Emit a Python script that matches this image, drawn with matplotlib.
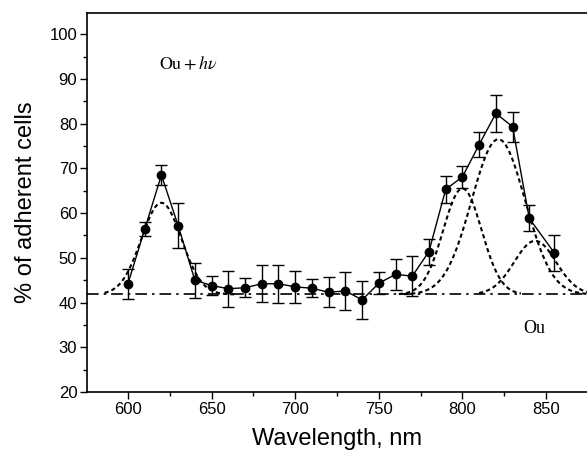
import numpy as np
import matplotlib
matplotlib.use('Agg')
import matplotlib.pyplot as plt

# measured points
wavelength = [600, 610, 620, 630, 640, 650, 660, 670, 680, 690, 700, 710, 720,
              730, 740, 750, 760, 770, 780, 790, 800, 810, 820, 830, 840, 855]
adherent = [44.2, 56.4, 68.5, 57.2, 45.0, 43.8, 43.1, 43.3, 44.2, 44.2, 43.5, 43.2, 42.3,
            42.6, 40.6, 44.3, 46.3, 45.9, 51.4, 65.3, 68.1, 75.3, 82.3, 79.3, 58.8, 51.1]
errors = [3.4, 1.6, 2.3, 5.0, 3.9, 2.1, 4.0, 2.1, 4.1, 4.2, 3.5, 2.0, 3.3,
          4.2, 4.2, 2.5, 3.5, 4.5, 2.9, 3.0, 2.4, 2.8, 4.2, 3.4, 2.9, 4.1]

# gaussian fit components
baseline = 41.8
peak_centers = [620, 800, 821.5, 843.5]
peak_widths = [12, 11.5, 16, 12.5]
peak_heights = [20.5, 23.7, 34.7, 12.0]
peak_from = [586, 762, 765, 810]
peak_to = [665, 835, 875, 875]


def graph_adherence():
    fig = plt.figure(figsize=(5.87, 4.57), dpi=100)
    ax = fig.add_axes([87 / 587, 1 - 392 / 457, 500 / 587, (392 - 12.7) / 457])
    plt.rcParams['mathtext.fontset'] = 'stix'

    ax.axhline(baseline, color='black', lw=1.2, linestyle=(0, (7, 3, 1.5, 3)), zorder=1)

    for c, s, h, a, b in zip(peak_centers, peak_widths, peak_heights, peak_from, peak_to):
        x = np.linspace(a, b, 200)
        y = baseline + h * np.exp(-(x - c) ** 2 / (2 * s ** 2))
        ax.plot(x, y, color='black', lw=1.5, linestyle=(0, (2.0, 1.5)), zorder=2)

    ax.errorbar(wavelength, adherent, yerr=errors, color='black', lw=1, marker='o',
                markersize=6, elinewidth=1, capsize=4.5, capthick=1, zorder=3)

    ax.set_xlim(575.5, 874.5)
    ax.set_ylim(20, 104.8)
    ax.set_xticks([600, 650, 700, 750, 800, 850])
    ax.set_xticks([625, 675, 725, 775, 825], minor=True)
    ax.set_yticks(range(20, 101, 10))
    ax.set_yticks(range(25, 101, 10), minor=True)
    ax.tick_params(which='major', direction='out', length=5, width=1, labelsize=12, pad=2)
    ax.tick_params(which='minor', direction='out', length=3, width=1)
    for lbl in ax.get_xticklabels() + ax.get_yticklabels():
        lbl.set_family('Liberation Sans')
    ax.spines['right'].set_visible(False)
    for sp in ['left', 'bottom', 'top']:
        ax.spines[sp].set_linewidth(1.2)

    ax.set_xlabel('Wavelength, nm', fontsize=17, family='Liberation Sans', labelpad=8)
    ax.set_ylabel('% of adherent cells', fontsize=17, family='Liberation Sans', labelpad=9)

    ax.text(636, 93.3, r'$\mathrm{Ou}+h\nu$', fontsize=13, ha='center', va='center')
    ax.text(843, 34.3, 'Ou', fontsize=13, family='Liberation Serif', ha='center', va='center')

    fig.savefig('out.png', dpi=100)


def main():
    graph_adherence()


if __name__ == '__main__':
    main()
